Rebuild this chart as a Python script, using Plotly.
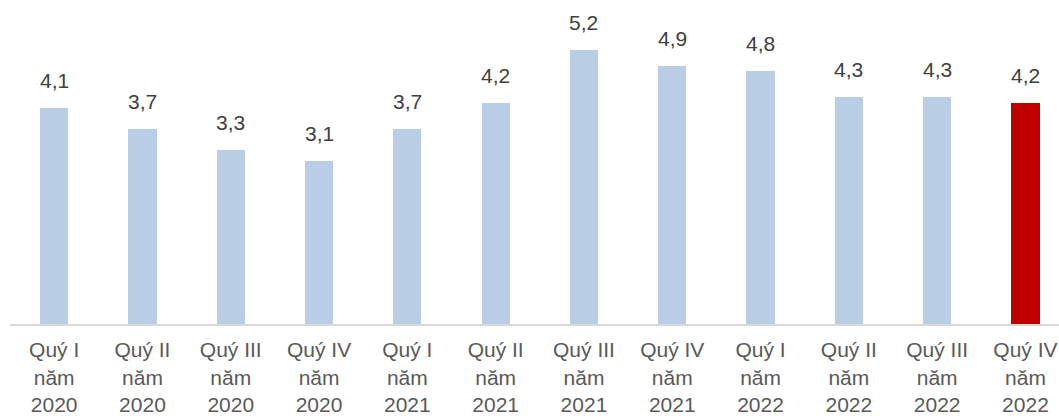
import plotly.graph_objects as go

# Quarterly values (%)
quarters = ["Quý I", "Quý II", "Quý III", "Quý IV"] * 3
years = ["2020"] * 4 + ["2021"] * 4 + ["2022"] * 4
values = [4.1, 3.7, 3.3, 3.1, 3.7, 4.2, 5.2, 4.9, 4.8, 4.3, 4.3, 4.2]

categories = [f"{q}<br>năm<br>{y}" for q, y in zip(quarters, years)]
value_labels = [f"{v:.1f}".replace(".", ",") for v in values]

base_color = "#B9CDE5"
highlight_color = "#C00000"
colors = [base_color] * (len(values) - 1) + [highlight_color]

fig = go.Figure(
    go.Bar(
        x=categories,
        y=values,
        marker=dict(color=colors, line=dict(width=0)),
        width=0.32,
        hoverinfo="skip",
    )
)

for cat, v, lab in zip(categories, values, value_labels):
    fig.add_annotation(
        x=cat, y=v, text=lab, showarrow=False,
        yanchor="bottom", yshift=14,
        font=dict(family="Liberation Sans, Arial, sans-serif", size=21, color="#404040"),
    )

fig.update_layout(
    width=1059, height=418,
    margin=dict(l=10, r=0, t=0, b=94),
    paper_bgcolor="white", plot_bgcolor="white",
    showlegend=False,
    bargap=0,
    xaxis=dict(
        type="category",
        range=[-0.5, 11.38],
        showline=True, linecolor="#D9D9D9", linewidth=2,
        showgrid=False, ticks="",
        automargin=False,
        ticklabelstandoff=6,
        tickfont=dict(family="Liberation Sans, Arial, sans-serif", size=21, color="#595959"),
        fixedrange=True,
    ),
    yaxis=dict(
        range=[0, 6.15],
        visible=False,
        fixedrange=True,
    ),
)

fig.write_html("out.html")
